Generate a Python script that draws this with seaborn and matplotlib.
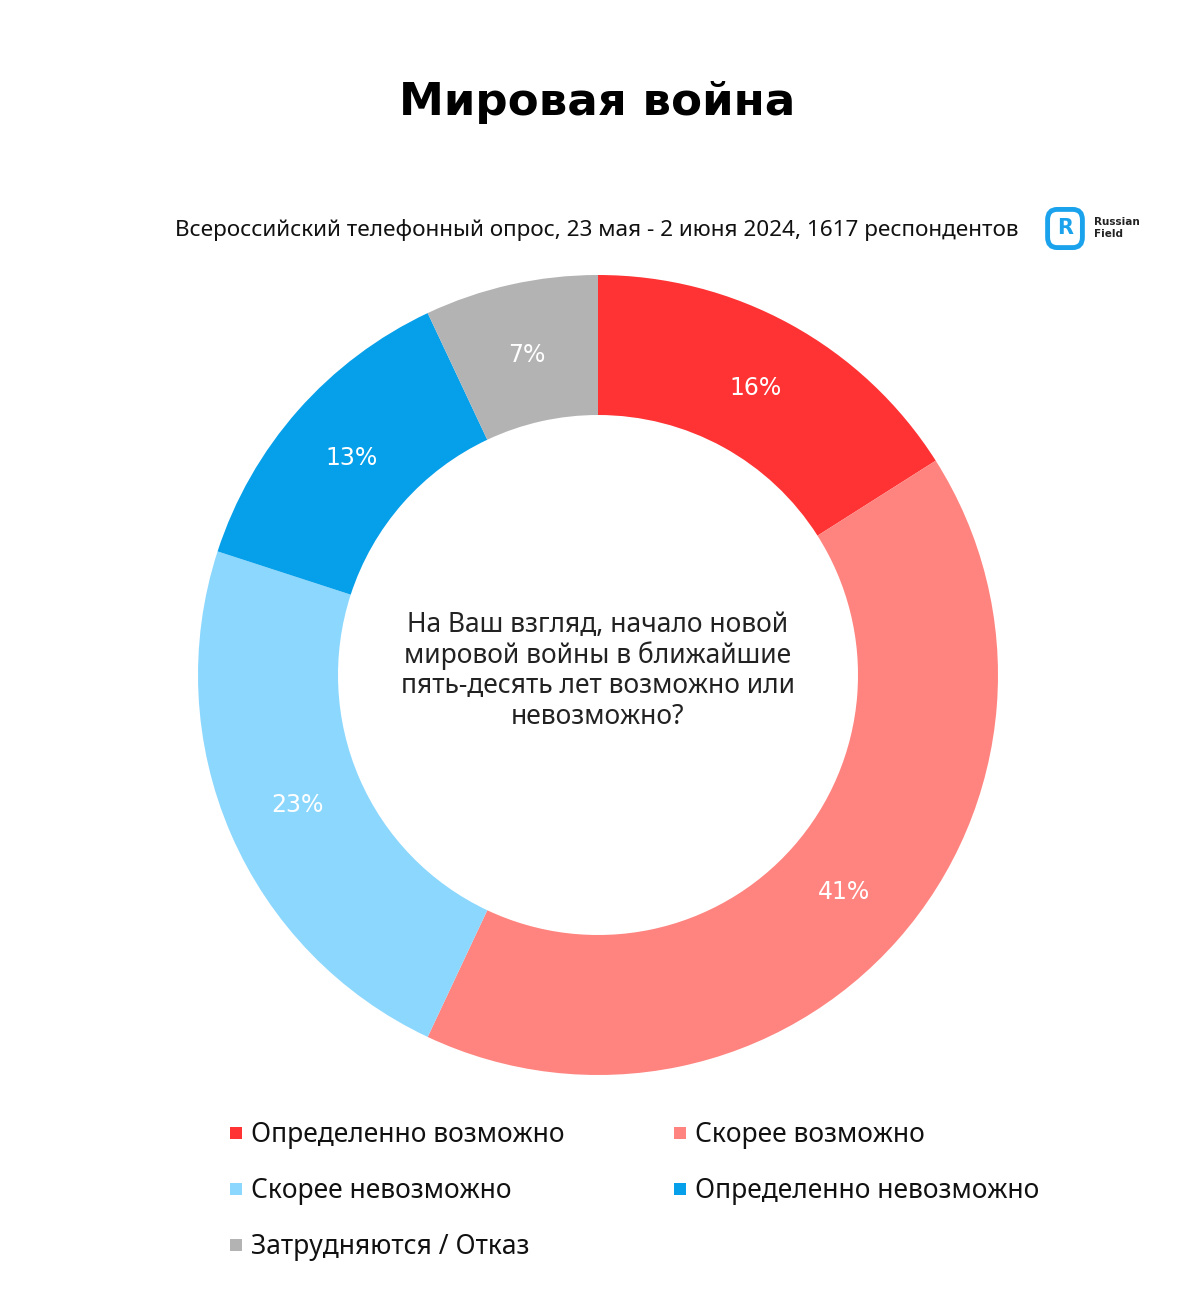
import matplotlib
matplotlib.use("Agg")
import matplotlib.pyplot as plt
import seaborn as sns
from matplotlib.patches import Rectangle, FancyBboxPatch

categories = ["Определенно возможно", "Скорее возможно", "Скорее невозможно",
              "Определенно невозможно", "Затрудняются / Отказ"]
values = [16, 41, 23, 13, 7]
colors = ["#FF3334", "#FF847F", "#8CD7FE", "#069FE9", "#B3B3B3"]

title = "Мировая война"
subtitle = "Всероссийский телефонный опрос, 23 мая - 2 июня 2024, 1617 респондентов"
question = "На Ваш взгляд, начало новой\nмировой войны в ближайшие\nпять-десять лет возможно или\nневозможно?"

sns.set_theme(style="white")
plt.rcParams['font.family'] = ['Noto Sans', 'DejaVu Sans']

W, H = 1200, 1292
fig = plt.figure(figsize=(W / 100, H / 100), dpi=100)
fig.patch.set_facecolor("white")

ax = fig.add_axes([198 / W, 217 / H, 800 / W, 800 / H])
wedges, texts, autotexts = ax.pie(
    values, colors=colors, startangle=90, counterclock=False, radius=1,
    wedgeprops=dict(width=0.35, edgecolor='none'),
    autopct=lambda p: f"{p:.0f}%", pctdistance=0.82,
    textprops=dict(color='white', fontsize=17, family=['DejaVu Sans']))
ax.set_aspect('equal')
ax.set_xlim(-1, 1)
ax.set_ylim(-1, 1)
ax.axis('off')

ax.text(0, 0.01, question, ha='center', va='center', fontsize=19,
        color='#222222', linespacing=1.1)

fig.text(0.498, 1 - 103 / H, title, ha='center', va='center',
         fontsize=32.5, fontweight='bold', color='black', family=['DejaVu Sans'])
fig.text(597 / W, 1 - 230 / H, subtitle, ha='center', va='center',
         fontsize=16.2, color='#111111')

# logo
fig.patches.append(FancyBboxPatch((1050 / W, 1 - 245 / H), 30 / W, 33 / H,
                                  boxstyle="round,pad=0.002,rounding_size=0.008",
                                  transform=fig.transFigure, facecolor='none',
                                  edgecolor='#1AA3EC', linewidth=3.5))
fig.text(1065 / W, 1 - 228 / H, "R", ha='center', va='center', fontsize=15,
         fontweight='bold', color='#1AA3EC', family=['DejaVu Sans'])
fig.text(1094 / W, 1 - 228 / H, "Russian\nField", ha='left', va='center',
         fontsize=7.5, fontweight='bold', color='#222222', linespacing=1.2,
         family=['DejaVu Sans'])

# legend
positions = [(236, 1135), (680, 1135), (236, 1191), (680, 1191), (236, 1247)]
for (x, y), lab, c in zip(positions, categories, colors):
    fig.patches.append(Rectangle(((x - 6) / W, 1 - (y + 4) / H), 12 / W, 12 / H,
                                 transform=fig.transFigure, facecolor=c,
                                 edgecolor='none'))
    fig.text((x + 15) / W, 1 - y / H, lab, ha='left', va='center',
             fontsize=19, color='#111111')

fig.savefig("out.png", dpi=100, facecolor='white')
